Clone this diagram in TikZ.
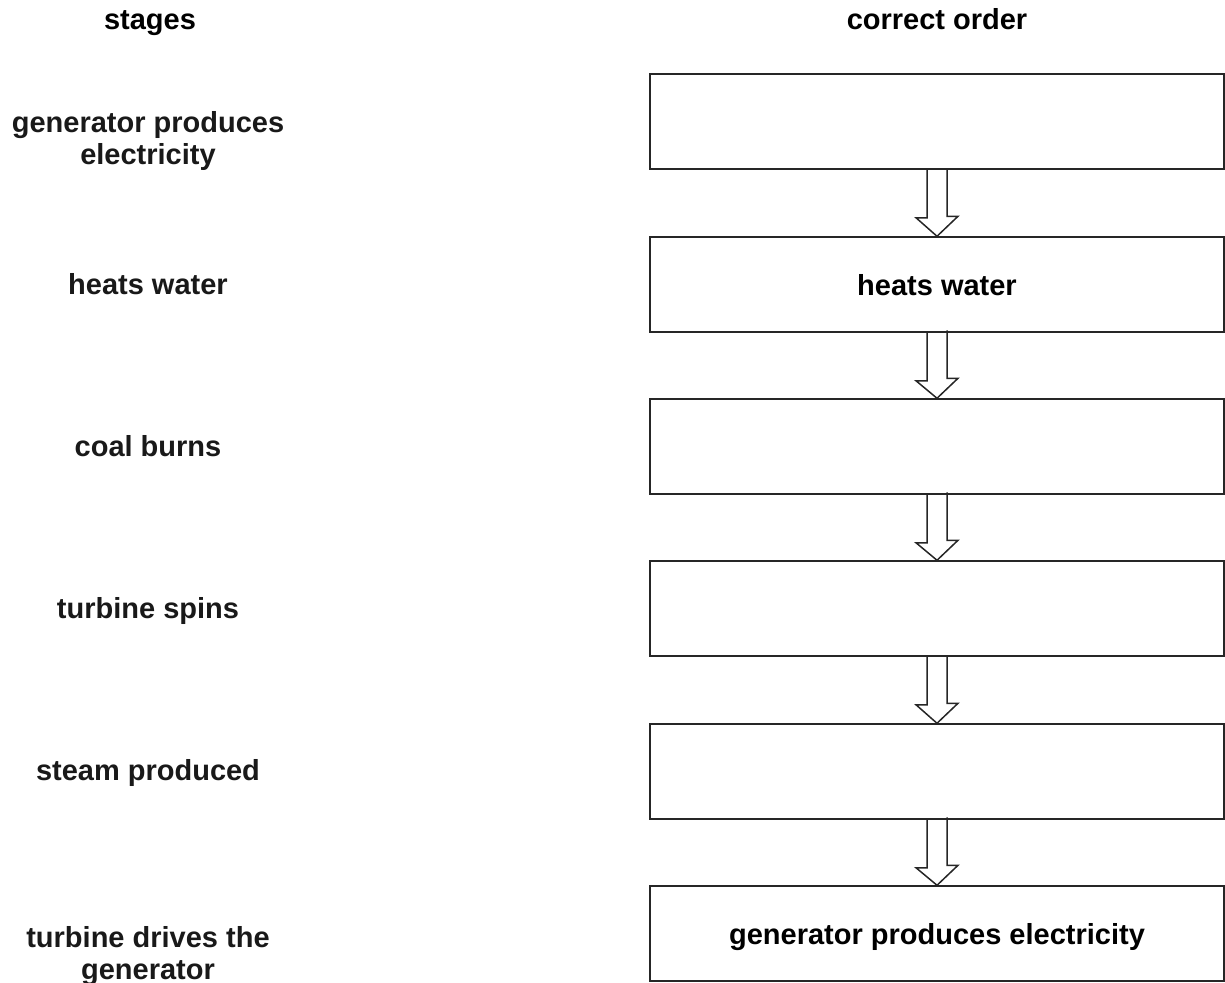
\documentclass[tikz,border=0pt]{standalone}
\usepackage{fontspec}
\setmainfont{Liberation Sans}
\usepackage{tikz}
\usetikzlibrary{arrows.meta}

\begin{document}
\begin{tikzpicture}[x=0.5pt,y=-0.5pt,
                    font=\fontsize{14.5}{16}\selectfont\bfseries]
				\useasboundingbox (0,0) rectangle (1225,982);

				% headings
				\node[anchor=base] (stagesHead) at (150,29) {stages};
				\node[anchor=base] (orderHead)  at (937,29) {correct order};

				\begin{scope}[every node/.style={align=center,text=black!90}]
				    \node (s1) at (148,141) {generator produces\\electricity};
				    \node (s2) at (148,284) {heats water};
				    \node (s3) at (148,446) {coal burns};
				    \node (s4) at (148,611) {turbine spins};
				    \node (s5) at (148,773) {steam produced};
				    \node (s6) at (148,956) {turbine drives the\\generator};
				\end{scope}

				\begin{scope}[every node/.style={rectangle,draw=black!85,line width=0.75pt,
				              minimum width=287pt,minimum height=47.5pt,inner sep=0pt,text depth=0pt}]
				    \node (b1) at (937,121.5) {};
				    \node (b2) at (937,284.5) {heats water};
				    \node (b3) at (937,446.5) {};
				    \node (b4) at (937,608.5) {};
				    \node (b5) at (937,771.5) {};
				    \node (b6) at (937,933.5) {generator produces electricity};
				\end{scope}

				\begin{scope}[every path/.style={draw=black!85,line width=0.75pt,line join=miter}]
				    \foreach \i/\j in {1/2,2/3,3/4,4/5,5/6}
				        \path (b\i.south) ++(-10,0) -- ++(0,48) -- ++(-11,0) -- (b\j.north)
				              -- ++(21,-20) -- ++(-11,0) -- ++(0,-48);
				\end{scope}
				\end{tikzpicture}
\end{document}
